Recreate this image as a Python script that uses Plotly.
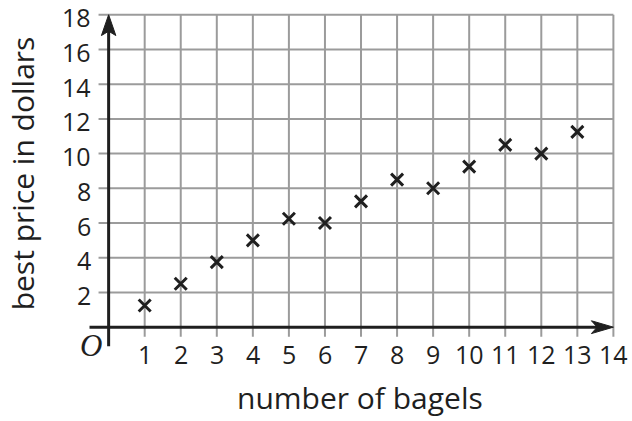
import plotly.graph_objects as go

# ---- data ----
bagels = [1, 2, 3, 4, 5, 6, 7, 8, 9, 10, 11, 12, 13]
best_price = [1.25, 2.5, 3.75, 5, 6.25, 6, 7.25, 8.5, 8, 9.25, 10.5, 10, 11.25]
x_ticks = [1, 2, 3, 4, 5, 6, 7, 8, 9, 10, 11, 12, 13, 14]
y_ticks = [2, 4, 6, 8, 10, 12, 14, 16, 18]
x_title = "number of bagels"
y_title = "best price in dollars"

X_MAX, Y_MAX = 14, 18
INK = "#1f1f1f"
GRID = "#9b9b9b"
FONT = "Open Sans"

fig = go.Figure()
fig.add_trace(go.Scatter(
    x=bagels, y=best_price, mode="markers",
    marker=dict(symbol="x-thin", size=12, line=dict(width=3, color=INK), color=INK),
    showlegend=False, hoverinfo="skip"))

shapes = []
# vertical grid lines
for xv in x_ticks:
    shapes.append(dict(type="line", xref="x", yref="y", x0=xv, x1=xv, y0=-0.55, y1=Y_MAX,
                       line=dict(color=GRID, width=2), layer="below"))
# horizontal grid lines
for yv in y_ticks:
    shapes.append(dict(type="line", xref="x", yref="y", x0=-0.28, x1=X_MAX, y0=yv, y1=yv,
                       line=dict(color=GRID, width=2), layer="below"))
# axes lines
shapes.append(dict(type="line", xref="x", yref="y", x0=-0.53, x1=X_MAX - 0.3, y0=0, y1=0,
                   line=dict(color=INK, width=3), layer="below"))
shapes.append(dict(type="line", xref="x", yref="y", x0=0, x1=0, y0=-1.1, y1=Y_MAX - 0.6,
                   line=dict(color=INK, width=3), layer="below"))
# arrow heads (sizes in axis units, from pixel sizes)
Lx, Nx, Hy = 0.61, 0.45, 0.37
shapes.append(dict(type="path", xref="x", yref="y",
                   path=f"M {X_MAX} 0 L {X_MAX-Lx} {Hy} L {X_MAX-Nx} 0 L {X_MAX-Lx} {-Hy} Z",
                   fillcolor=INK, line=dict(color=INK, width=1), layer="below"))
Ly, Ny, Hx = 1.2, 0.95, 0.2
shapes.append(dict(type="path", xref="x", yref="y",
                   path=f"M 0 {Y_MAX} L {Hx} {Y_MAX-Ly} L 0 {Y_MAX-Ny} L {-Hx} {Y_MAX-Ly} Z",
                   fillcolor=INK, line=dict(color=INK, width=1), layer="below"))

annotations = []
for xv in x_ticks:
    annotations.append(dict(x=xv, y=-0.018, xref="x", yref="paper", text=str(xv), showarrow=False,
                            xanchor="center", yanchor="middle",
                            font=dict(family=FONT, size=25, color=INK)))
for yv in y_ticks:
    annotations.append(dict(x=-0.44, y=yv, xref="x", yref="y", text=str(yv), showarrow=False,
                            xanchor="right", yanchor="middle", yshift=-2.5,
                            font=dict(family=FONT, size=25, color=INK)))
annotations.append(dict(x=-0.48, y=-1.05, xref="x", yref="y", text="<i>O</i>", showarrow=False,
                        xanchor="center", yanchor="middle",
                        font=dict(family="Liberation Serif", size=31, color=INK)))
annotations.append(dict(x=0.515, y=-0.149, xref="paper", yref="paper", text=x_title,
                        showarrow=False, xanchor="center", yanchor="middle",
                        font=dict(family=FONT, size=30, color=INK)))
annotations.append(dict(x=-0.121, y=0.521, xref="paper", yref="paper", text=y_title,
                        showarrow=False, xanchor="center", yanchor="middle", textangle=-90,
                        font=dict(family=FONT, size=30, color=INK)))

fig.update_layout(
    width=632, height=421,
    margin=dict(l=87, r=15, t=13, b=73),
    paper_bgcolor="white", plot_bgcolor="white",
    xaxis=dict(range=[-0.6, 14.1], showgrid=False, zeroline=False, showticklabels=False,
               showline=False, ticks="", fixedrange=True),
    yaxis=dict(range=[-1.2, 18.1], showgrid=False, zeroline=False, showticklabels=False,
               showline=False, ticks="", fixedrange=True),
    shapes=shapes, annotations=annotations, showlegend=False,
)
fig.write_html("out.html", config={"displayModeBar": False},
               post_script="document.body.style.margin='0';document.body.style.overflow='hidden';")
